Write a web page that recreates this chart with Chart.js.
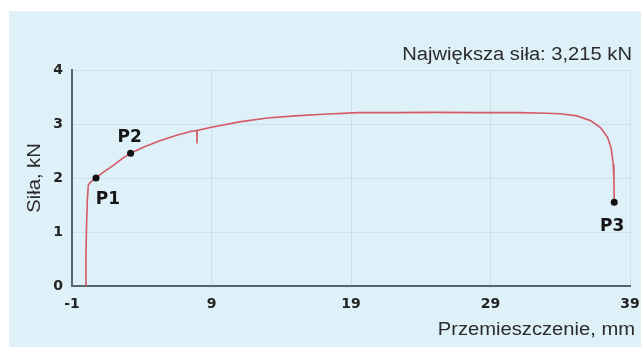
<!DOCTYPE html>
<html>
<head>
<meta charset="utf-8">
<script src="https://cdn.jsdelivr.net/npm/chart.js@4"></script>
<style>
    html, body { margin: 0; padding: 0; background: #fff; }
    #wrap { width: 641px; height: 347px; }
</style>
</head>
<body>
<div id="wrap"><canvas id="forceChart" width="641" height="347"></canvas></div>
<script>
// displacement (mm) and force (kN)
let displacement = [-0.05, 0.0, 0.05, 0.1, 0.17, 0.35, 0.72, 1.2, 1.94, 2.6, 3.2, 4.2, 5.3, 6.5, 7.5, 7.95, 7.96, 7.97, 9.0, 11.0, 13.0, 15.0, 17.0, 19.5, 22.0, 25.0, 28.0, 31.0, 33.0, 34.0, 35.2, 36.2, 36.9, 37.4, 37.65, 37.8, 37.85, 37.87];
let force = [0.0, 0.6, 1.2, 1.6, 1.87, 1.93, 2.0, 2.1, 2.23, 2.36, 2.46, 2.58, 2.69, 2.79, 2.86, 2.88, 2.64, 2.88, 2.94, 3.04, 3.11, 3.15, 3.18, 3.21, 3.21, 3.215, 3.21, 3.21, 3.2, 3.19, 3.15, 3.06, 2.93, 2.75, 2.55, 2.25, 1.95, 1.55];

let markNames = ["P1", "P2", "P3"];
let markX = [0.72, 3.2, 37.87];
let markY = [2.0, 2.46, 1.55];

let xTicks = [-1, 9, 19, 29, 39];
let yTicks = [0, 1, 2, 3, 4];

let maxForceText = "Największa siła: 3,215 kN";
let xTitle = "Przemieszczenie, mm";
let yTitle = "Siła, kN";

let textColor = "#2b2b2b";

// draws text a little wider than the font, like the original scan
function wideText(ctx, text, x, y, align) {
    let stretch = 1.12;
    ctx.save();
    ctx.translate(x, y);
    ctx.scale(stretch, 1);
    ctx.textAlign = align;
    ctx.fillText(text, 0, 0);
    ctx.restore();
}

let decor = {
    id: "decor",
    beforeDraw(chart) {
        let ctx = chart.ctx;
        ctx.save();
        ctx.fillStyle = "#ffffff";
        ctx.fillRect(0, 0, chart.width, chart.height);
        ctx.fillStyle = "#def0f8";
        ctx.fillRect(9, 11, chart.width - 9, chart.height - 11);
        ctx.restore();
    },
    afterDraw(chart) {
        let ctx = chart.ctx;
        let area = chart.chartArea;
        ctx.save();
        ctx.fillStyle = textColor;
        ctx.font = "18px 'Liberation Sans', Arial, sans-serif";
        ctx.textBaseline = "alphabetic";
        wideText(ctx, maxForceText, 632, 60, "right");
        wideText(ctx, xTitle, 635, 335, "right");

        ctx.save();
        ctx.translate(40, (area.top + area.bottom) / 2);
        ctx.rotate(-Math.PI / 2);
        wideText(ctx, yTitle, 0, 0, "center");
        ctx.restore();

        // point labels
        let xs = chart.scales.x, ys = chart.scales.y;
        let offsets = [[12, 22], [-1, -16], [-2, 24]];
        ctx.font = "bold 17px 'DejaVu Sans', Verdana, sans-serif";
        ctx.textAlign = "center";
        ctx.textBaseline = "middle";
        ctx.fillStyle = "#151515";
        markNames.forEach((name, i) => {
            let px = xs.getPixelForValue(markX[i]) + offsets[i][0];
            let py = ys.getPixelForValue(markY[i]) + offsets[i][1];
            ctx.fillText(name, px, py);
        });
        ctx.restore();
    }
};

let curve = displacement.map((d, i) => ({ x: d, y: force[i] }));
let marks = markX.map((d, i) => ({ x: d, y: markY[i] }));

let tickFont = { family: "'DejaVu Sans', Verdana, sans-serif", size: 14, weight: "bold" };
let gridColor = "rgba(175,205,215,0.4)";

let chart = new Chart(document.getElementById("forceChart"), {
    type: "scatter",
    data: {
        datasets: [{
            data: marks,
            pointRadius: 3.5,
            pointBackgroundColor: "#111",
            pointBorderWidth: 0,
            showLine: false
        }, {
            data: curve,
            showLine: true,
            borderColor: "#d35a66",
            borderWidth: 1.6,
            pointRadius: 0,
            tension: 0
        }]
    },
    options: {
        responsive: false,
        animation: false,
        layout: { padding: { left: 10, right: 11, top: 70, bottom: 11 } },
        plugins: { legend: { display: false }, tooltip: { enabled: false } },
        scales: {
            x: {
                type: "linear",
                min: -1,
                max: 39,
                afterBuildTicks: s => { s.ticks = xTicks.map(v => ({ value: v })); },
                afterFit: s => { s.height = 50; s.paddingLeft = 0; s.paddingRight = 0; },
                grid: { color: gridColor, drawTicks: false },
                border: { color: "#58656d", width: 2 },
                ticks: { font: tickFont, color: "#222", padding: 10, maxRotation: 0 }
            },
            y: {
                min: 0,
                max: 4,
                afterBuildTicks: s => { s.ticks = yTicks.map(v => ({ value: v })); },
                afterFit: s => { s.width = 62; s.paddingTop = 0; s.paddingBottom = 0; },
                grid: { color: gridColor, drawTicks: false },
                border: { color: "#58656d", width: 2 },
                ticks: { font: tickFont, color: "#222", padding: 9 }
            }
        }
    },
    plugins: [decor]
});
</script>
</body>
</html>
